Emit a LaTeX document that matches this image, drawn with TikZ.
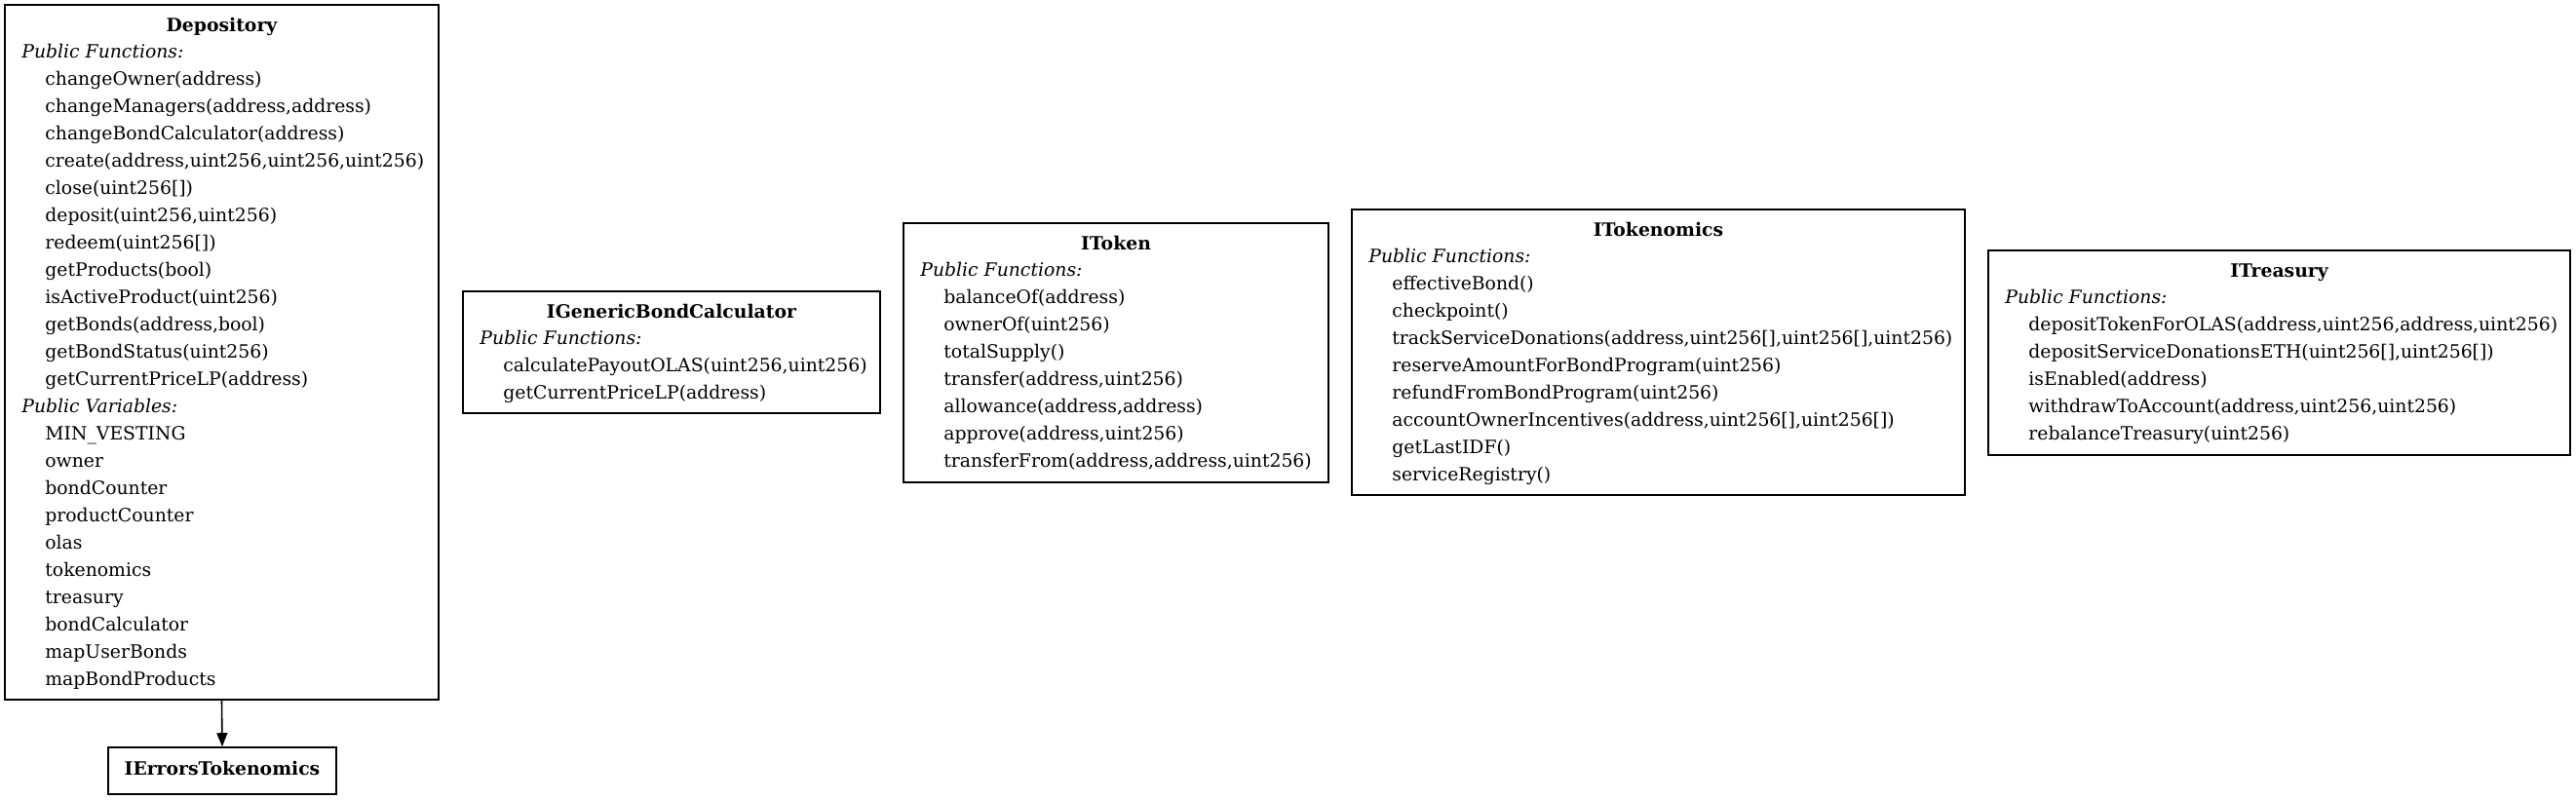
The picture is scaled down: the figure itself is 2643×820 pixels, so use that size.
\documentclass[tikz,border=0pt]{standalone}
\usepackage{fontspec}
\setmainfont{DejaVu Serif}
\usepackage{tikz}
\usetikzlibrary{arrows.meta,fit}

\newcommand{\classmember}{\hspace*{12pt}}

\begin{document}
\begin{tikzpicture}[x=0.5pt,y=0.5pt,yscale=-1,xscale=1,
  classbox/.style={draw, line width=0.8pt, inner sep=0pt},
  classtitle/.style={anchor=base, inner sep=0pt, font=\fontsize{9.4}{14}\selectfont\bfseries},
  classbody/.style={anchor=north west, inner sep=0pt, align=left, font=\fontsize{9.4}{14}\selectfont},
  usesarrow/.style={line width=0.8pt, -{Triangle[length=7pt,width=5.5pt]}}]
%set diagram to the size of the whole page
\useasboundingbox (0,0) rectangle (2643,820);

%Shape: Rectangle [Depository]
\node [classbox, fit={(5,5) (450,718)}] (depository) {};
% Text Node
\node [classtitle] (depositoryTitle) at (227.5,32) {Depository};
% Text Node
\node [classbody] (depositoryBody) at (22,45) {\textit{Public Functions:}\\
\classmember changeOwner(address)\\
\classmember changeManagers(address,address)\\
\classmember changeBondCalculator(address)\\
\classmember create(address,uint256,uint256,uint256)\\
\classmember close(uint256[])\\
\classmember deposit(uint256,uint256)\\
\classmember redeem(uint256[])\\
\classmember getProducts(bool)\\
\classmember isActiveProduct(uint256)\\
\classmember getBonds(address,bool)\\
\classmember getBondStatus(uint256)\\
\classmember getCurrentPriceLP(address)\\
\textit{Public Variables:}\\
\classmember MIN\_VESTING\\
\classmember owner\\
\classmember bondCounter\\
\classmember productCounter\\
\classmember olas\\
\classmember tokenomics\\
\classmember treasury\\
\classmember bondCalculator\\
\classmember mapUserBonds\\
\classmember mapBondProducts};

%Shape: Rectangle [IErrorsTokenomics]
\node [classbox, fit={(111,767) (345,815)}] (ierrors) {};
% Text Node
\node [classtitle] (ierrorsTitle) at (228,795) {IErrorsTokenomics};

%Shape: Rectangle [IGenericBondCalculator]
\node [classbox, fit={(475,299) (903,424)}] (bondcalc) {};
% Text Node
\node [classtitle] (bondcalcTitle) at (689,326) {IGenericBondCalculator};
% Text Node
\node [classbody] (bondcalcBody) at (492,339) {\textit{Public Functions:}\\
\classmember calculatePayoutOLAS(uint256,uint256)\\
\classmember getCurrentPriceLP(address)};

%Shape: Rectangle [IToken]
\node [classbox, fit={(927,229) (1363,495)}] (itoken) {};
% Text Node
\node [classtitle] (itokenTitle) at (1145,256) {IToken};
% Text Node
\node [classbody] (itokenBody) at (944,269) {\textit{Public Functions:}\\
\classmember balanceOf(address)\\
\classmember ownerOf(uint256)\\
\classmember totalSupply()\\
\classmember transfer(address,uint256)\\
\classmember allowance(address,address)\\
\classmember approve(address,uint256)\\
\classmember transferFrom(address,address,uint256)};

%Shape: Rectangle [ITokenomics]
\node [classbox, fit={(1387,215) (2016,508)}] (itokenomics) {};
% Text Node
\node [classtitle] (itokenomicsTitle) at (1701.5,242) {ITokenomics};
% Text Node
\node [classbody] (itokenomicsBody) at (1404,255) {\textit{Public Functions:}\\
\classmember effectiveBond()\\
\classmember checkpoint()\\
\classmember trackServiceDonations(address,uint256[],uint256[],uint256)\\
\classmember reserveAmountForBondProgram(uint256)\\
\classmember refundFromBondProgram(uint256)\\
\classmember accountOwnerIncentives(address,uint256[],uint256[])\\
\classmember getLastIDF()\\
\classmember serviceRegistry()};

%Shape: Rectangle [ITreasury]
\node [classbox, fit={(2040,257) (2637,467)}] (itreasury) {};
% Text Node
\node [classtitle] (itreasuryTitle) at (2338.5,284) {ITreasury};
% Text Node
\node [classbody] (itreasuryBody) at (2057,297) {\textit{Public Functions:}\\
\classmember depositTokenForOLAS(address,uint256,address,uint256)\\
\classmember depositServiceDonationsETH(uint256[],uint256[])\\
\classmember isEnabled(address)\\
\classmember withdrawToAccount(address,uint256,uint256)\\
\classmember rebalanceTreasury(uint256)};

%Straight Lines [Depository uses IErrorsTokenomics]
\draw [usesarrow] (depository.south) -- (ierrors.north);

\end{tikzpicture}
\end{document}
